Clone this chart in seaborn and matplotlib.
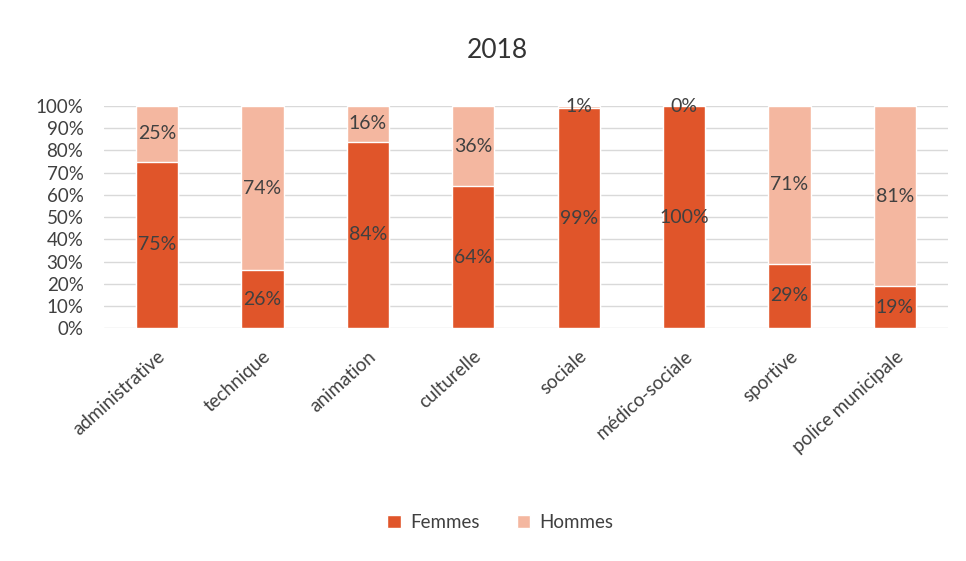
import matplotlib
matplotlib.use("Agg")
import matplotlib.pyplot as plt
from matplotlib.patches import Patch
import seaborn as sns
import pandas as pd

categories = ["administrative", "technique", "animation", "culturelle",
              "sociale", "médico-sociale", "sportive", "police municipale"]
femmes = [75, 26, 84, 64, 99, 100, 29, 19]
hommes = [25, 74, 16, 36, 1, 0, 71, 81]
yticks = list(range(0, 101, 10))

COL_F = "#E0552A"
COL_H = "#F4B7A0"
TXT = "#404040"

sns.set_theme(style="white")
plt.rcParams["font.family"] = ["Lato", "DejaVu Sans"]

df = pd.DataFrame({"cat": categories, "Femmes": femmes, "Hommes": hommes})
df["total"] = df["Femmes"] + df["Hommes"]

fig = plt.figure(figsize=(9.66, 5.61), dpi=100)
ax = fig.add_axes([0.108, 0.415, 0.873, 0.396])

# stacked 100% bars: total in the Hommes colour, Femmes drawn over it
sns.barplot(data=df, x="cat", y="total", color=COL_H, width=0.4,
            saturation=1, ax=ax, zorder=2)
sns.barplot(data=df, x="cat", y="Femmes", color=COL_F, width=0.4,
            saturation=1, ax=ax, zorder=3)

for i, (f, h) in enumerate(zip(femmes, hommes)):
    ax.text(i, f / 2, f"{f}%", ha="center", va="center", fontsize=14,
            color=TXT, zorder=5)
    ax.text(i, f + h / 2 if h > 2 else 100, f"{h}%", ha="center",
            va="center", fontsize=14, color=TXT, zorder=5)

ax.set_ylim(0, 100)
ax.set_yticks(yticks)
ax.set_yticklabels([f"{t}%" for t in yticks], fontsize=13.5, color=TXT)
ax.set_xlim(-0.5, len(categories) - 0.5)
ax.set_xticks(range(len(categories)))
ax.set_xticklabels(categories, rotation=42, ha="right",
                   rotation_mode="anchor", fontsize=13.5, color=TXT)
ax.tick_params(axis="y", length=0, pad=15)
ax.tick_params(axis="x", length=0, pad=14)
ax.set_xlabel("")
ax.set_ylabel("")
ax.yaxis.grid(True, color="#D9D9D9", linewidth=1, zorder=0)
ax.set_axisbelow(True)
for s in ax.spines.values():
    s.set_visible(False)

fig.text(0.515, 0.91, "2018", ha="center", va="center", fontsize=19,
         color="#333333")

handles = [Patch(facecolor=COL_F, label="Femmes"),
           Patch(facecolor=COL_H, label="Hommes")]
fig.legend(handles=handles, loc="center", bbox_to_anchor=(0.518, 0.068),
           ncol=2, frameon=False, fontsize=13.5, handlelength=0.7,
           handleheight=0.7, handletextpad=0.5, columnspacing=2.0,
           labelcolor=TXT)

fig.savefig("out.png", dpi=100, facecolor="white")
